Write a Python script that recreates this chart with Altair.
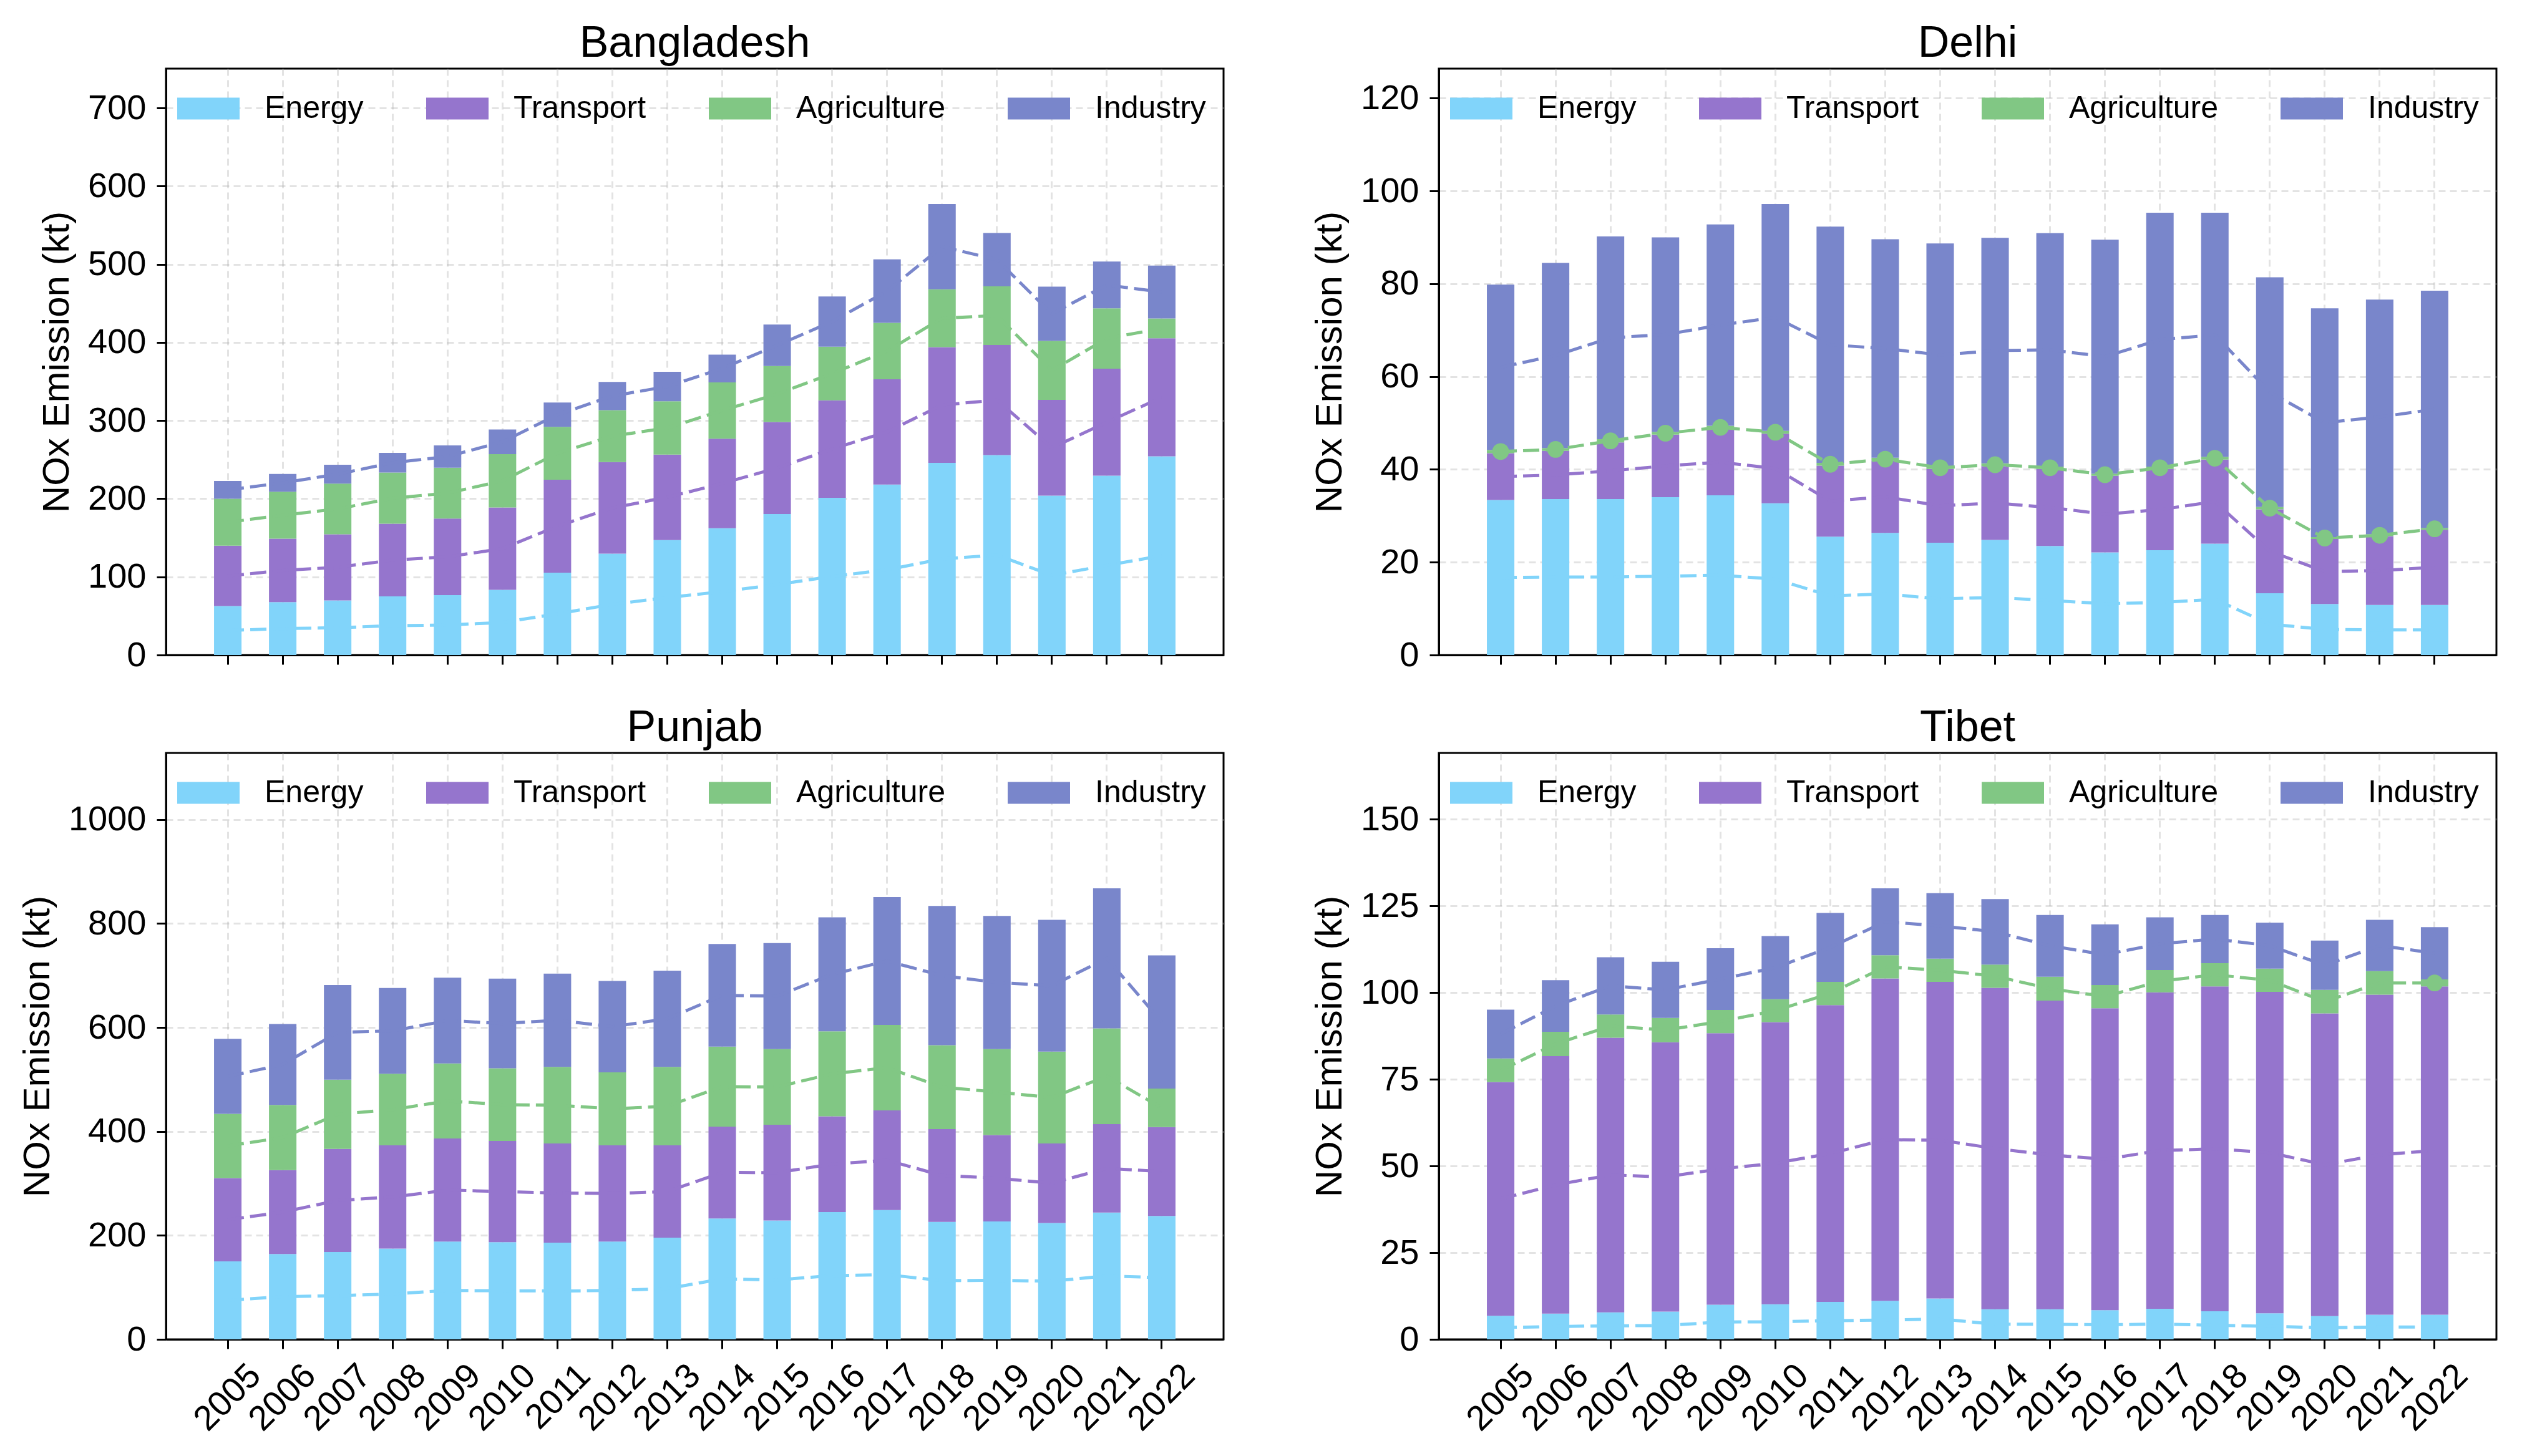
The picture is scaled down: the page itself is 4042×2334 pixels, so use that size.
import altair as alt
import pandas as pd

FONT = "Liberation Sans"

YEARS = ["2005", "2006", "2007", "2008", "2009", "2010", "2011", "2012", "2013",
         "2014", "2015", "2016", "2017", "2018", "2019", "2020", "2021", "2022"]
SECTORS = ["Energy", "Transport", "Agriculture", "Industry"]
COLORS = ["#81D4FA", "#9575CD", "#81C784", "#7986CB"]
REGION_ORDER = ["Bangladesh", "Delhi", "Punjab", "Tibet"]

# ---- values (kt) ----
BANGLADESH_ENERGY = [62.6, 67.6, 69.9, 75.0, 76.7, 83.4, 105.4, 129.7, 147.1, 162.3, 180.4, 201.2, 218.2, 245.8, 255.9, 204.0, 229.4, 254.2]
BANGLADESH_TRANSPORT = [77.2, 81.2, 84.6, 93.0, 98.0, 105.4, 119.0, 117.2, 109.4, 114.5, 117.8, 124.6, 134.7, 148.2, 140.9, 122.4, 137.0, 151.1]
BANGLADESH_AGRICULTURE = [60.2, 60.2, 64.8, 65.4, 64.9, 68.2, 67.6, 66.5, 68.2, 72.1, 71.6, 68.8, 72.1, 73.9, 75.0, 75.5, 77.2, 25.4]
BANGLADESH_INDUSTRY = [22.7, 22.7, 24.2, 25.3, 28.7, 31.6, 31.0, 36.1, 37.8, 35.5, 53.0, 64.2, 81.2, 109.3, 68.2, 69.4, 59.8, 67.6]

DELHI_ENERGY = [33.4, 33.6, 33.6, 34.0, 34.4, 32.7, 25.5, 26.3, 24.2, 24.8, 23.5, 22.1, 22.6, 24.0, 13.3, 11.0, 10.8, 10.8]
DELHI_TRANSPORT = [10.1, 10.4, 12.2, 13.5, 14.3, 15.0, 15.3, 15.6, 15.9, 15.9, 16.6, 16.5, 17.5, 18.1, 18.1, 14.0, 14.8, 16.2]
DELHI_AGRICULTURE = [0.7, 0.6, 0.7, 0.6, 0.7, 0.6, 0.6, 0.6, 0.5, 0.6, 0.5, 0.5, 0.5, 0.6, 0.5, 0.4, 0.4, 0.4]
DELHI_INDUSTRY = [35.6, 39.9, 43.7, 41.9, 43.4, 48.9, 50.9, 47.1, 48.1, 48.6, 50.3, 50.4, 54.7, 52.6, 49.5, 49.3, 50.6, 51.1]

PUNJAB_ENERGY = [150.0, 164.2, 168.0, 174.7, 188.0, 187.0, 186.1, 188.0, 195.6, 232.6, 228.8, 245.0, 248.8, 226.0, 227.0, 224.0, 244.0, 237.3]
PUNJAB_TRANSPORT = [160.4, 161.4, 198.5, 198.5, 198.5, 194.8, 190.9, 185.2, 177.6, 176.7, 184.2, 184.2, 191.8, 178.5, 166.2, 153.0, 170.0, 171.1]
PUNJAB_AGRICULTURE = [123.4, 125.4, 133.0, 137.7, 144.4, 139.6, 147.3, 140.6, 151.1, 153.8, 145.4, 163.4, 164.3, 161.5, 165.2, 176.7, 184.3, 74.0]
PUNJAB_INDUSTRY = [144.3, 155.8, 182.2, 165.1, 165.1, 172.6, 179.4, 175.7, 185.1, 197.6, 204.2, 219.4, 246.0, 267.8, 256.4, 253.5, 269.6, 256.5]

TIBET_ENERGY = [6.8, 7.4, 7.8, 8.0, 10.0, 10.1, 10.8, 11.1, 11.8, 8.7, 8.7, 8.4, 8.8, 8.1, 7.5, 6.7, 7.1, 7.1]
TIBET_TRANSPORT = [67.4, 74.3, 79.2, 77.7, 78.3, 81.4, 85.6, 93.0, 91.3, 92.7, 89.0, 87.1, 91.3, 93.7, 92.7, 87.3, 92.3, 94.7]
TIBET_AGRICULTURE = [6.8, 7.0, 6.7, 7.0, 6.7, 6.6, 6.7, 6.7, 6.7, 6.7, 6.9, 6.7, 6.4, 6.7, 6.7, 6.8, 6.8, 2.0]
TIBET_INDUSTRY = [14.1, 14.9, 16.5, 16.2, 17.8, 18.2, 19.9, 19.3, 18.9, 18.9, 17.8, 17.5, 15.2, 13.9, 13.3, 14.2, 14.8, 15.1]

# which agriculture mid-points carry a round marker in the reference
BANGLADESH_AGRI_MARKER = [0, 0, 0, 0, 0, 0, 0, 0, 0, 0, 0, 0, 0, 0, 0, 0, 0, 0]
DELHI_AGRI_MARKER = [1, 1, 1, 1, 1, 1, 1, 1, 1, 1, 1, 1, 1, 1, 1, 1, 1, 1]
PUNJAB_AGRI_MARKER = [0, 0, 0, 0, 0, 0, 0, 0, 0, 0, 0, 0, 0, 0, 0, 0, 0, 0]
TIBET_AGRI_MARKER = [0, 0, 0, 0, 0, 0, 0, 0, 0, 0, 0, 0, 0, 0, 0, 0, 0, 1]

Y_TICKS = {
    "Bangladesh": [0, 100, 200, 300, 400, 500, 600, 700],
    "Delhi": [0, 20, 40, 60, 80, 100, 120],
    "Punjab": [0, 200, 400, 600, 800, 1000],
    "Tibet": [0, 25, 50, 75, 100, 125, 150],
}

DATA = {
    "Bangladesh": [BANGLADESH_ENERGY, BANGLADESH_TRANSPORT, BANGLADESH_AGRICULTURE, BANGLADESH_INDUSTRY],
    "Delhi": [DELHI_ENERGY, DELHI_TRANSPORT, DELHI_AGRICULTURE, DELHI_INDUSTRY],
    "Punjab": [PUNJAB_ENERGY, PUNJAB_TRANSPORT, PUNJAB_AGRICULTURE, PUNJAB_INDUSTRY],
    "Tibet": [TIBET_ENERGY, TIBET_TRANSPORT, TIBET_AGRICULTURE, TIBET_INDUSTRY],
}
MARKERS = {
    "Bangladesh": BANGLADESH_AGRI_MARKER,
    "Delhi": DELHI_AGRI_MARKER,
    "Punjab": PUNJAB_AGRI_MARKER,
    "Tibet": TIBET_AGRI_MARKER,
}

rows = []
for region in REGION_ORDER:
    series = DATA[region]
    for i, year in enumerate(YEARS):
        cum = 0.0
        for k, sector in enumerate(SECTORS):
            v = series[k][i]
            rows.append({
                "region": region, "year": year, "sector": sector, "idx": k,
                "value": v, "mid": cum + v / 2.0, "hex": COLORS[k],
                "marker": MARKERS[region][i] if sector == "Agriculture" else 0,
            })
            cum += v
df = pd.DataFrame(rows)

PLOT_W = 1695
PLOT_H = 940
YTITLE = "NOx Emission (kt)"


def panel(region, bottom):
    d = df[df["region"] == region]
    ymax = 1.3 * d.groupby("year")["value"].sum().max()
    base = alt.Chart(d)

    if bottom:
        x_axis = alt.Axis(title=None, labels=True, labelAngle=-45, labelAlign="right",
                          labelBaseline="middle", labelOffset=44, labelPadding=34,
                          grid=True, bandPosition=0.5)
    else:
        x_axis = alt.Axis(title=None, labels=False, grid=True, bandPosition=0.5)

    x_scale = alt.Scale(domain=YEARS, paddingInner=0.5, paddingOuter=0.875)
    y_scale = alt.Scale(domain=[0, ymax], nice=False, zero=True)
    y_axis = alt.Axis(title=YTITLE, values=Y_TICKS[region], format="d", grid=True)

    bars = base.mark_bar().encode(
        x=alt.X("year:N", sort=YEARS, scale=x_scale, axis=x_axis),
        y=alt.Y("value:Q", stack="zero", scale=y_scale, axis=y_axis),
        color=alt.Color(
            "sector:N",
            scale=alt.Scale(domain=SECTORS, range=COLORS),
            legend=alt.Legend(
                title=None, orient="none", legendX=18, legendY=14,
                direction="horizontal", columns=4, columnPadding=100,
                symbolType="M-1,-0.35H1V0.35H-1Z", symbolSize=10000,
                symbolStrokeWidth=0, symbolOpacity=1, labelOffset=40,
                labelFontSize=50, labelFont=FONT, labelColor="black",
                labelLimit=2000, padding=0, rowPadding=0,
            ),
        ),
        order=alt.Order("idx:Q", sort="ascending"),
    )

    lines = base.mark_line(strokeDash=[26, 10], strokeWidth=5).encode(
        x=alt.X("year:N", sort=YEARS),
        y=alt.Y("mid:Q", title=YTITLE),
        color=alt.Color("hex:N", scale=None),
        detail="sector:N",
    )

    pts = base.transform_filter("datum.marker == 1").mark_circle(size=720, opacity=1).encode(
        x=alt.X("year:N", sort=YEARS),
        y=alt.Y("mid:Q", title=YTITLE),
        color=alt.Color("hex:N", scale=None),
    )

    return alt.layer(bars, lines, pts).properties(
        width=PLOT_W, height=PLOT_H,
        title=alt.TitleParams(text=region, fontSize=70, font=FONT, fontWeight="normal",
                              color="black", anchor="middle", offset=-51,
                              baseline="alphabetic"),
    )


chart = alt.concat(
    panel("Bangladesh", False), panel("Delhi", False),
    panel("Punjab", True), panel("Tibet", True),
    columns=2, spacing=alt.RowColnumber(row=50, column=137),
).resolve_scale(
    x="independent", y="independent", color="independent"
).resolve_legend(
    color="independent"
).properties(
    padding={"left": 20, "top": 25, "right": 5, "bottom": 5},
    background="white",
).configure_view(
    stroke="black", strokeWidth=3
).configure_axis(
    domainColor="black", domainWidth=3,
    tickColor="black", tickWidth=3, tickSize=15,
    labelFont=FONT, labelFontSize=56, labelColor="black", labelPadding=17,
    titleFont=FONT, titleFontSize=60, titleFontWeight="normal", titleColor="black",
    titlePadding=18,
    gridColor="#b0b0b0", gridOpacity=0.35, gridDash=[11, 7], gridWidth=3,
    zindex=1,
)

chart.save("out.html", embed_options={"renderer": "svg", "actions": False})
